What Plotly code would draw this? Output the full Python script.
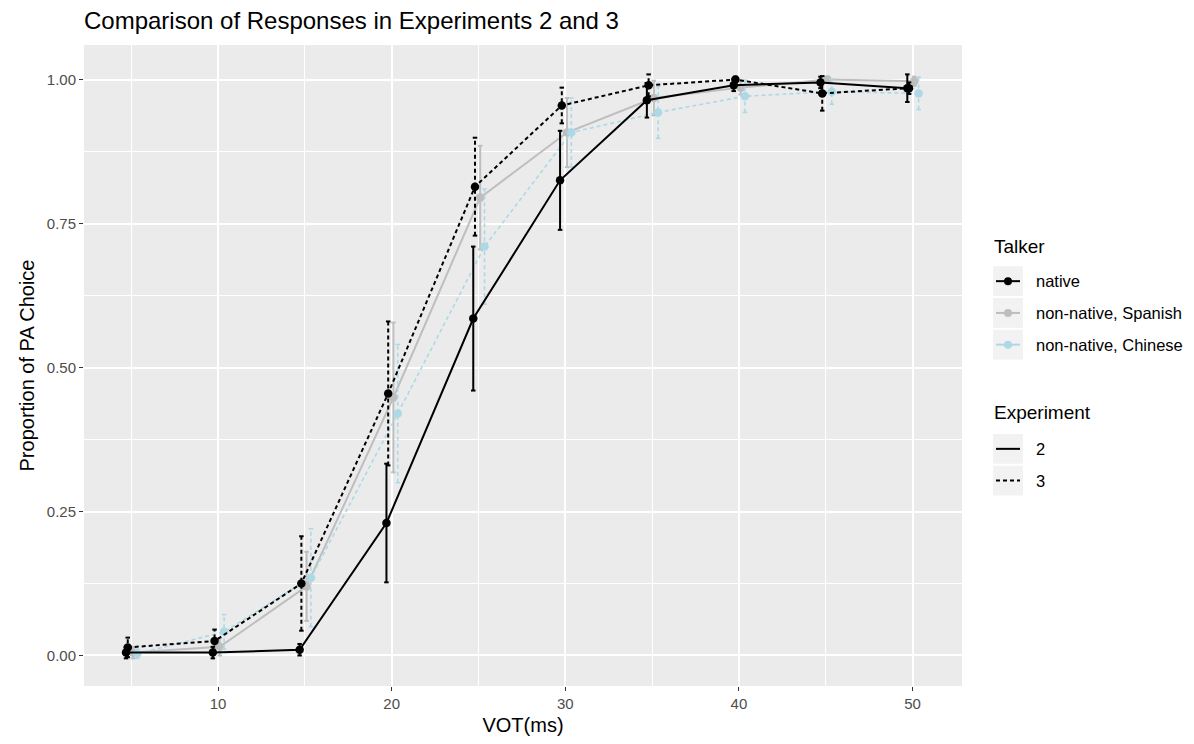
import plotly.graph_objects as go

# ---------------- data ----------------
vot = [5, 10, 15, 20, 25, 30, 35, 40, 45, 50]

native_exp2 = [0.005, 0.005, 0.010, 0.230, 0.585, 0.825, 0.964, 0.990, 0.995, 0.985]
native_exp2_err = [0.010, 0.010, 0.010, 0.103, 0.125, 0.086, 0.030, 0.010, 0.010, 0.024]

native_exp3 = [0.014, 0.025, 0.125, 0.455, 0.814, 0.955, 0.990, 1.000, 0.976, 0.985]
native_exp3_err = [0.017, 0.020, 0.082, 0.125, 0.085, 0.031, 0.019, 0.005, 0.030, 0.010]

spanish_exp2 = [0.005, 0.015, 0.120, 0.448, 0.795, 0.908, 0.968, 0.986, 1.000, 0.997]
spanish_exp2_err = [0.010, 0.015, 0.060, 0.130, 0.090, 0.060, 0.030, 0.012, 0.005, 0.008]

chinese_exp3 = [0.003, 0.041, 0.135, 0.420, 0.710, 0.908, 0.943, 0.971, 0.979, 0.976]
chinese_exp3_err = [0.008, 0.030, 0.085, 0.120, 0.100, 0.060, 0.045, 0.028, 0.022, 0.028]

x_ticks = [10, 20, 30, 40, 50]
y_ticks = [0.00, 0.25, 0.50, 0.75, 1.00]

# ---------------- style ----------------
FONT = "Liberation Sans, Arial, Helvetica, sans-serif"
DOT = "4px,3px"
BLACK = "#000000"
GRAY = "#BEBEBE"
LBLUE = "#ADD8E6"

series = [
    dict(y=spanish_exp2, err=spanish_exp2_err, color=GRAY, dash="solid", off=0.1, w=2),
    dict(y=chinese_exp3, err=chinese_exp3_err, color=LBLUE, dash=DOT, off=0.35, w=1.6),
    dict(y=native_exp3, err=native_exp3_err, color=BLACK, dash=DOT, off=-0.2, w=2),
    dict(y=native_exp2, err=native_exp2_err, color=BLACK, dash="solid", off=-0.3, w=2),
]

fig = go.Figure()
CAP = 0.13
for s in series:
    xs = [v + s["off"] for v in vot]
    ex, ey, cx, cy = [], [], [], []
    for xi, yi, ei in zip(xs, s["y"], s["err"]):
        ex += [xi, xi, None]
        ey += [yi - ei, yi + ei, None]
        for yy in (yi - ei, yi + ei):
            cx += [xi - CAP, xi + CAP, None]
            cy += [yy, yy, None]
    fig.add_trace(go.Scatter(x=ex, y=ey, mode="lines", hoverinfo="skip", showlegend=False,
                             line=dict(color=s["color"], width=s["w"], dash=s["dash"])))
    fig.add_trace(go.Scatter(x=cx, y=cy, mode="lines", hoverinfo="skip", showlegend=False,
                             line=dict(color=s["color"], width=s["w"])))
    fig.add_trace(go.Scatter(x=xs, y=s["y"], mode="lines+markers", showlegend=False,
                             line=dict(color=s["color"], width=s["w"], dash=s["dash"]),
                             marker=dict(color=s["color"], size=8.5)))

# ---------------- layout ----------------
L, R, T, B = 84, 962, 45, 691
W, H = 1194, 744

def px(xp):
    return (xp - L) / (R - L)

def py(yp):
    return (B - yp) / (B - T)

shapes = []
annotations = []

# legend: Talker
annotations.append(dict(text="Talker", x=px(992), y=py(248), xref="paper", yref="paper",
                        xanchor="left", yanchor="middle", showarrow=False,
                        font=dict(size=19, color="black", family=FONT)))
talker_items = [("native", BLACK, 283), ("non-native, Spanish", GRAY, 315), ("non-native, Chinese", LBLUE, 347)]
for label, col, cyp in talker_items:
    shapes.append(dict(type="rect", xref="paper", yref="paper", x0=px(993), x1=px(1023),
                       y0=py(cyp - 15), y1=py(cyp + 15), fillcolor="#F2F2F2", line=dict(width=0), layer="below"))
    shapes.append(dict(type="line", xref="paper", yref="paper", x0=px(996), x1=px(1020),
                       y0=py(cyp), y1=py(cyp), line=dict(color=col, width=2)))
    shapes.append(dict(type="circle", xref="paper", yref="paper", x0=px(1004), x1=px(1012),
                       y0=py(cyp - 4), y1=py(cyp + 4), fillcolor=col, line=dict(width=0)))
    annotations.append(dict(text=label, x=px(1034), y=py(cyp), xref="paper", yref="paper",
                            xanchor="left", yanchor="middle", showarrow=False,
                            font=dict(size=16.5, color="black", family=FONT)))

# legend: Experiment
annotations.append(dict(text="Experiment", x=px(992), y=py(415), xref="paper", yref="paper",
                        xanchor="left", yanchor="middle", showarrow=False,
                        font=dict(size=19, color="black", family=FONT)))
for label, dash, cyp in [("2", "solid", 452), ("3", DOT, 484)]:
    shapes.append(dict(type="rect", xref="paper", yref="paper", x0=px(993), x1=px(1023),
                       y0=py(cyp - 15), y1=py(cyp + 15), fillcolor="#F2F2F2", line=dict(width=0), layer="below"))
    shapes.append(dict(type="line", xref="paper", yref="paper", x0=px(996), x1=px(1020),
                       y0=py(cyp), y1=py(cyp), line=dict(color=BLACK, width=2, dash=dash)))
    annotations.append(dict(text=label, x=px(1034), y=py(cyp), xref="paper", yref="paper",
                            xanchor="left", yanchor="middle", showarrow=False,
                            font=dict(size=16.5, color="black", family=FONT)))

fig.update_layout(
    width=W, height=H,
    margin=dict(l=L, r=W - R, t=T, b=H - B),
    paper_bgcolor="white",
    plot_bgcolor="#EBEBEB",
    font=dict(family=FONT),
    showlegend=False,
    title=dict(text="Comparison of Responses in Experiments 2 and 3", x=px(84), xref="paper",
               xanchor="left", y=1 - 21 / H, yanchor="middle",
               font=dict(size=24, color="black", family=FONT)),
    shapes=shapes,
    annotations=annotations,
    xaxis=dict(range=[2.28, 52.85], tickvals=x_ticks, ticktext=[str(v) for v in x_ticks],
               showgrid=True, gridcolor="white", gridwidth=1.6, zeroline=False, showline=False,
               ticks="outside", ticklen=4, tickcolor="#333333", tickwidth=1,
               tickfont=dict(size=15, color="#4D4D4D", family=FONT),
               minor=dict(tickvals=[5, 15, 25, 35, 45], showgrid=True, gridcolor="white", gridwidth=0.8, ticks=""),
               title=dict(text="VOT(ms)", font=dict(size=20, color="black", family=FONT), standoff=6)),
    yaxis=dict(range=[-0.053, 1.060], tickvals=y_ticks, ticktext=["%.2f" % v for v in y_ticks],
               showgrid=True, gridcolor="white", gridwidth=1.6, zeroline=False, showline=False,
               ticks="outside", ticklen=4, tickcolor="#333333", tickwidth=1,
               tickfont=dict(size=15, color="#4D4D4D", family=FONT),
               minor=dict(tickvals=[0.125, 0.375, 0.625, 0.875], showgrid=True, gridcolor="white", gridwidth=0.8, ticks=""),
               title=dict(text="Proportion of PA Choice", font=dict(size=20, color="black", family=FONT), standoff=6)),
)

fig.write_html("out.html")
